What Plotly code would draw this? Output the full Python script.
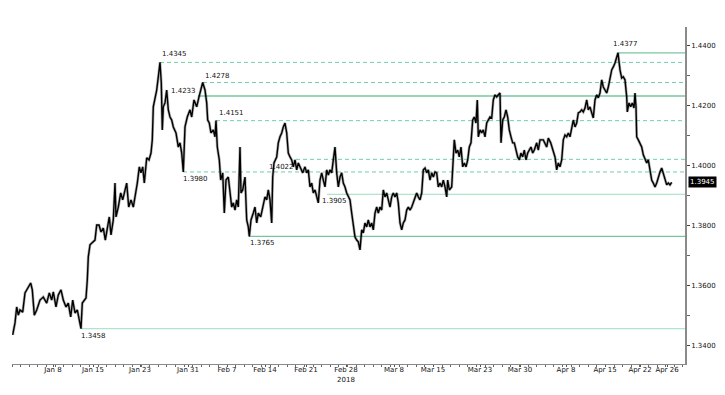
import plotly.graph_objects as go

# ---- data: bar index (≈3h bars, trading time only) and close price ----
bar_index = [
    0.7, 3, 4.7, 6.3, 8, 10.7, 13, 16.3, 18.7, 20.3,
    22.3, 24.7, 28, 31.3, 34.7, 37.3, 39.7, 41.3, 44, 46.3,
    49, 51.3, 54, 56.3, 58.7, 60.7, 63, 65.3, 67.3, 69,
    70.3, 72, 74, 75.3, 76.3, 78, 80.7, 83, 84.7, 87,
    89, 91.3, 93.3, 95.3, 97.3, 99, 101.3, 103, 104, 106.3,
    108.7, 110.7, 113, 114.7, 116.7, 119, 121.3, 123.3, 125.3, 127.3,
    129, 130.7, 132.3, 134.7, 137, 139, 140.3, 141.3, 143, 144.7,
    146.3, 148, 149.3, 150.3, 151.3, 153, 154.7, 156.3, 158, 159.7,
    161.3, 164, 166.3, 168, 169.7, 171.3, 173, 175.3, 178, 179.7,
    182, 184.7, 187, 188.7, 190.7, 193, 194.7, 195.7, 197.3, 199,
    201.3, 203, 204, 205.3, 207.3, 208.7, 210.7, 212.3, 214, 216.3,
    218, 219.7, 221.3, 223, 224.7, 226.3, 228, 229, 230.7, 233,
    234.7, 236.3, 237.3, 239, 241.3, 243, 244.7, 246.3, 248.7, 251.3,
    253, 254.7, 256.3, 258, 259.7, 260.7, 262, 264.7, 266.3, 268,
    269.7, 271.3, 273, 274.7, 276.3, 278, 279.7, 281.3, 283, 284.7,
    286.3, 288, 290.7, 293, 294.7, 296.3, 298, 299.7, 301.3, 303,
    304.7, 306.3, 308, 309.7, 311.3, 313, 314.7, 316.3, 318, 319.7,
    321.3, 323, 324.7, 326.3, 328, 329.7, 331.3, 333, 334.7, 336.3,
    338, 339.7, 341.3, 343, 344.7, 346.3, 348, 349.7, 351.3, 353,
    354.7, 356.3, 358, 359.7, 361.3, 363, 364.7, 366.3, 368, 369.7,
    371.3, 373, 374.7, 376.3, 378, 379.7, 381.3, 383, 384.7, 386.3,
    388, 389.7, 391.3, 393, 394.7, 396.3, 398, 399.7, 401.3, 403,
    404.7, 406.3, 408, 409.7, 411.3, 413, 414.7, 416.3, 418, 419.7,
    421.3, 423, 424.7, 426.3, 428, 429.7, 431.3, 433, 434.7, 435.7,
    437.3, 439.7, 441.3, 442.3, 444, 445.7, 447.3, 449, 450.7, 452.3,
    454, 455.7, 457.3, 459, 460.7, 462.3, 464, 465.3, 466.3, 468,
    469.7, 471.3, 473, 474.7, 476.3, 478, 479.7, 481.3, 483, 484.7,
    486.3, 488, 489, 490.7, 492.3, 494, 495.7, 497.3, 499, 500.7,
    502.3, 504, 505.7, 507.3, 509, 510.7, 512.3, 514, 515.7, 517.3,
    519, 520.7, 522.3, 524.7, 526.3, 528, 531.3, 534.7, 536.3, 538.7,
    540.7, 543, 544.7, 546.3, 548, 549.7, 551.3, 553, 554.7, 556.3,
    558, 559.7, 561.3, 563, 564.7, 566.3, 568, 569.7, 571.3, 573,
    574.7, 576.3, 578, 579.7, 581.3, 583, 584.7, 586.3, 588, 589.7,
    591.3, 593, 594.7, 596.3, 598, 599.7, 601.3, 603, 606, 607,
    608, 609.7, 611.3, 613, 614.7, 615.3, 617, 618.7, 620.3, 622,
    623, 624, 624.7, 626.3, 628, 629.7, 631.3, 633, 634.7, 636.3,
    638, 639.7, 641.3, 643, 644.7, 646.3, 648, 649.7, 651.3, 653,
    654.7, 656.3, 658, 659.7,
]
close = [
    1.3437, 1.3477, 1.3530, 1.3503, 1.3520, 1.3513, 1.3577, 1.3597, 1.3610, 1.3587,
    1.3503, 1.3520, 1.3553, 1.3563, 1.3543, 1.3577, 1.3553, 1.3580, 1.3530, 1.3570,
    1.3587, 1.3553, 1.3530, 1.3543, 1.3497, 1.3553, 1.3510, 1.3520, 1.3487, 1.3458,
    1.3543, 1.3553, 1.3560, 1.3620, 1.3697, 1.3737, 1.3747, 1.3753, 1.3803, 1.3803,
    1.3780, 1.3793, 1.3753, 1.3787, 1.3830, 1.3770, 1.3820, 1.3943, 1.3830, 1.3863,
    1.3910, 1.3887, 1.3920, 1.3943, 1.3863, 1.3887, 1.3863, 1.3897, 1.3943, 1.3997,
    1.3977, 1.3997, 1.3943, 1.4027, 1.4020, 1.4043, 1.4087, 1.4197, 1.4227, 1.4253,
    1.4297, 1.4345, 1.4277, 1.4120, 1.4197, 1.4210, 1.4253, 1.4187, 1.4163, 1.4153,
    1.4130, 1.4110, 1.4063, 1.4077, 1.4043, 1.3980, 1.4130, 1.4163, 1.4187, 1.4163,
    1.4220, 1.4197, 1.4230, 1.4253, 1.4278, 1.4253, 1.4210, 1.4153, 1.4143, 1.4110,
    1.4120, 1.4097, 1.4151, 1.4063, 1.4020, 1.3953, 1.3977, 1.3843, 1.3953, 1.3963,
    1.3920, 1.3863, 1.3877, 1.3853, 1.3887, 1.3863, 1.4063, 1.3910, 1.3920, 1.3963,
    1.3820, 1.3797, 1.3765, 1.3820, 1.3843, 1.3863, 1.3810, 1.3843, 1.3830, 1.3877,
    1.3897, 1.3887, 1.3920, 1.3887, 1.3810, 1.3963, 1.4010, 1.4030, 1.4077, 1.4097,
    1.4110, 1.4130, 1.4143, 1.4110, 1.4043, 1.4030, 1.4020, 1.3997, 1.4020, 1.3987,
    1.4010, 1.3997, 1.3977, 1.3997, 1.3977, 1.3987, 1.3930, 1.3943, 1.3910, 1.3920,
    1.3897, 1.3877, 1.3953, 1.3977, 1.3953, 1.3930, 1.3987, 1.3970, 1.3987, 1.3977,
    1.4020, 1.4063, 1.3977, 1.3930, 1.3963, 1.3977, 1.3943, 1.3930, 1.3910, 1.3897,
    1.3887, 1.3843, 1.3797, 1.3763, 1.3753, 1.3747, 1.3720, 1.3787, 1.3777, 1.3810,
    1.3797, 1.3820, 1.3797, 1.3810, 1.3787, 1.3843, 1.3863, 1.3843, 1.3863, 1.3853,
    1.3920, 1.3897, 1.3910, 1.3887, 1.3863, 1.3897, 1.3910, 1.3897, 1.3910, 1.3877,
    1.3810, 1.3787, 1.3810, 1.3820, 1.3853, 1.3863, 1.3853, 1.3863, 1.3877, 1.3897,
    1.3910, 1.3897, 1.3887, 1.3910, 1.3987, 1.3993, 1.3977, 1.3987, 1.3953, 1.3977,
    1.3963, 1.3980, 1.3977, 1.3930, 1.3943, 1.3930, 1.3953, 1.3930, 1.3897, 1.3953,
    1.3920, 1.3930, 1.4010, 1.4087, 1.4043, 1.4053, 1.4030, 1.4063, 1.3997, 1.4010,
    1.3997, 1.4020, 1.4063, 1.4077, 1.4153, 1.4163, 1.4143, 1.4220, 1.4097, 1.4120,
    1.4110, 1.4120, 1.4097, 1.4143, 1.4153, 1.4163, 1.4160, 1.4220, 1.4237, 1.4230,
    1.4237, 1.4243, 1.4077, 1.4153, 1.4163, 1.4187, 1.4163, 1.4120, 1.4097, 1.4077,
    1.4077, 1.4053, 1.4030, 1.4020, 1.4043, 1.4030, 1.4053, 1.4020, 1.4043, 1.4053,
    1.4063, 1.4043, 1.4053, 1.4077, 1.4053, 1.4087, 1.4087, 1.4063, 1.4093, 1.4077,
    1.4053, 1.4030, 1.3987, 1.4010, 1.3997, 1.4020, 1.4087, 1.4103, 1.4097, 1.4110,
    1.4097, 1.4130, 1.4153, 1.4130, 1.4143, 1.4177, 1.4180, 1.4187, 1.4180, 1.4193,
    1.4220, 1.4187, 1.4197, 1.4177, 1.4160, 1.4220, 1.4237, 1.4227, 1.4243, 1.4287,
    1.4263, 1.4253, 1.4243, 1.4263, 1.4287, 1.4320, 1.4330, 1.4343, 1.4377, 1.4337,
    1.4320, 1.4293, 1.4297, 1.4287, 1.4230, 1.4180, 1.4210, 1.4197, 1.4210, 1.4193,
    1.4243, 1.4197, 1.4097, 1.4087, 1.4077, 1.4063, 1.4037, 1.4020, 1.4010, 1.4020,
    1.3977, 1.3953, 1.3943, 1.3930, 1.3943, 1.3963, 1.3980, 1.3993, 1.3977, 1.3953,
    1.3937, 1.3943, 1.3937, 1.3945,
]

# x-axis date labels (at bar positions)
tick_bars = [41, 81, 128, 176, 215, 253, 294, 334, 382, 421, 468, 508, 554, 593, 628, 655]
tick_labels = ["Jan 8", "Jan 15", "Jan 23", "Jan 31", "Feb 7", "Feb 14", "Feb 21",
               "Feb 28<br>2018", "Mar 8", "Mar 15", "Mar 23", "Mar 30", "Apr 8",
               "Apr 15", "Apr 22", "Apr 26"]

# y-axis ticks
price_ticks = [1.34, 1.36, 1.38, 1.40, 1.42, 1.44]

# horizontal support / resistance levels
level_values = [1.4345, 1.4278, 1.4233, 1.4151, 1.4022, 1.3980, 1.3905, 1.3765, 1.3458, 1.4377]
level_start = [148, 191, 186, 204, 284, 171, 315, 237, 69, 606]
level_kind = ["dash", "dash", "solid", "dash", "dash", "dash", "light", "solid", "light", "solid"]

X_END = 673
Y_MIN, Y_MAX = 1.3340, 1.4463

FONT = "DejaVu Sans, Verdana, sans-serif"

fig = go.Figure()
fig.add_trace(go.Scatter(x=bar_index, y=close, mode="lines",
                         line=dict(color="rgba(0,0,0,0.3)", width=2.8),
                         hoverinfo="skip", showlegend=False))
fig.add_trace(go.Scatter(x=bar_index, y=close, mode="lines",
                         line=dict(color="#000000", width=1.4),
                         showlegend=False))

styles = {
    "dash": dict(color="#6fd0ac", width=1, dash="4px,3px"),
    "solid": dict(color="#77c79e", width=1.3),
    "light": dict(color="#b0e4cc", width=1.3),
}
for v, s, k in zip(level_values, level_start, level_kind):
    fig.add_shape(type="line", xref="x", yref="y", x0=s, x1=X_END, y0=v, y1=v,
                  line=styles[k], layer="below")

lab_font = dict(family=FONT, size=7, color="#111")
# label placement per level: (xanchor, yanchor, xshift, yshift)
placement = [
    ("left", "bottom", 0, 2),
    ("left", "bottom", 0, 1),
    ("right", "middle", 0, 5),
    ("left", "bottom", 1, 2),
    ("right", "top", 0, -2),
    ("left", "top", -2, -1),
    ("left", "top", -7, -1),
    ("left", "top", -1, -1),
    ("left", "top", -2, -1),
    ("left", "bottom", -7, 3),
]
for v, s, (xa, ya, xs, ys) in zip(level_values, level_start, placement):
    fig.add_annotation(x=s, y=v, xref="x", yref="y", text=f"{v:.4f}", showarrow=False,
                       xanchor=xa, yanchor=ya, xshift=xs, yshift=ys, font=lab_font)

# last price badge
fig.add_annotation(x=1, xref="paper", y=close[-1], yref="y", text=f"{close[-1]:.4f}",
                   showarrow=False, xanchor="left", yanchor="middle", xshift=3,
                   bgcolor="#000000", borderpad=1,
                   font=dict(family=FONT, size=7, color="#ffffff"))

# page body has an 8px margin, so the figure is sized to fit the 725x395 window
fig.update_layout(
    width=717, height=387,
    margin=dict(l=4, r=40, t=19, b=31),
    paper_bgcolor="white", plot_bgcolor="white",
    showlegend=False,
    font=dict(family=FONT, size=7, color="#111"),
    xaxis=dict(range=[0, X_END], showgrid=False, zeroline=False,
               showline=True, linecolor="#8a8a8a", linewidth=1,
               tickmode="array", tickvals=tick_bars, ticktext=tick_labels,
               ticks="outside", ticklen=2, tickcolor="#555", ticklabelstandoff=-3,
               tickfont=dict(family=FONT, size=7, color="#111"),
               minor=dict(dtick=8.6, tick0=0, ticks="outside", ticklen=2, tickcolor="#666")),
    yaxis=dict(range=[Y_MIN, Y_MAX], side="right", showgrid=False, zeroline=False,
               showline=True, linecolor="#8a8a8a", linewidth=1.5,
               tickmode="array", tickvals=price_ticks, tickformat=".4f",
               ticks="outside", ticklen=3, tickcolor="#444",
               tickfont=dict(family=FONT, size=7, color="#111"),
               minor=dict(dtick=0.01, tick0=1.34, ticks="outside", ticklen=3, tickcolor="#666")),
)

fig.write_html("out.html", config={"displayModeBar": False})
